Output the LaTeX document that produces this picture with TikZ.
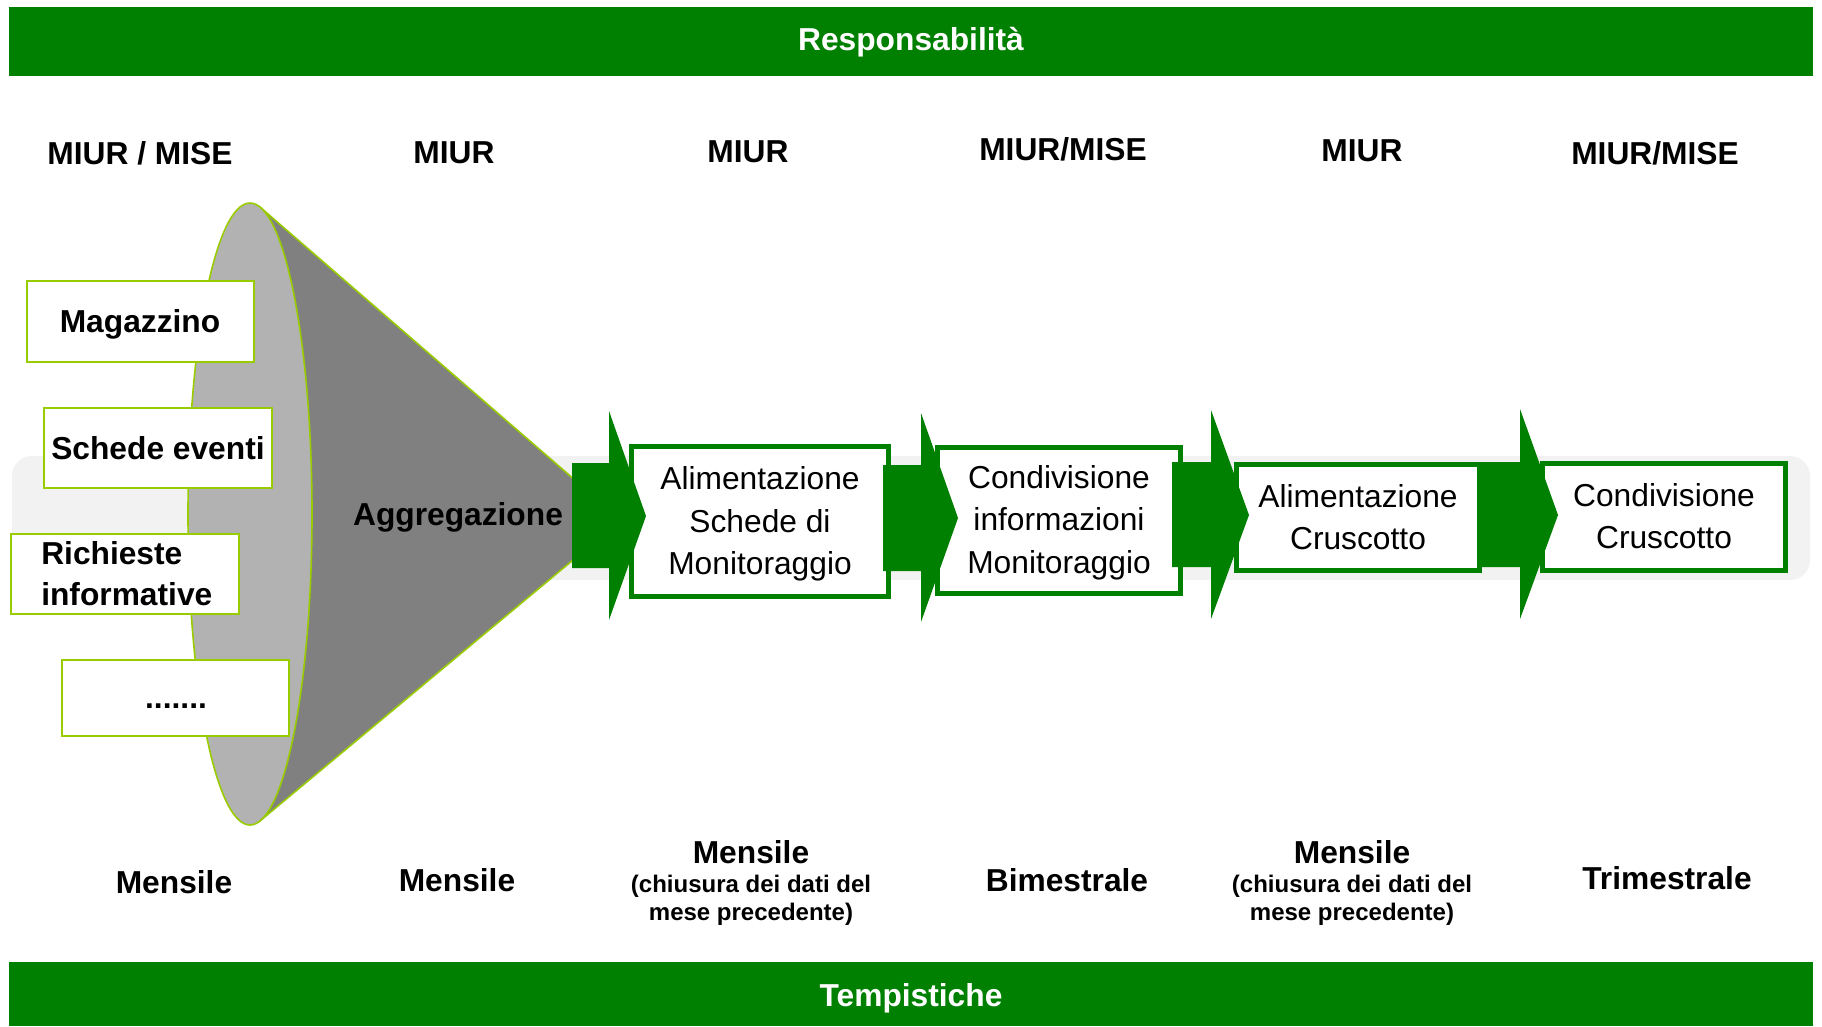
\documentclass[tikz,border=0pt]{standalone}
\usepackage{fontspec}
\setmainfont{Liberation Sans}
\definecolor{dgreen}{RGB}{0,128,0}
\definecolor{ygreen}{RGB}{153,204,0}
\definecolor{lgray}{RGB}{178,178,178}
\definecolor{mgray}{RGB}{128,128,128}
\definecolor{bgband}{RGB}{242,242,242}
\begin{document}
\begin{tikzpicture}[x=0.75pt,y=-0.75pt,
  big/.style={font=\fontsize{23.8}{28}\selectfont\bfseries, inner sep=0, anchor=base},
  small/.style={font=\fontsize{18}{22}\selectfont\bfseries, inner sep=0, anchor=base},
  reg/.style={font=\fontsize{23.8}{28}\selectfont, inner sep=0, anchor=base},
  hdr/.style={font=\fontsize{23.8}{28}\selectfont\bfseries, text=white, inner sep=0, anchor=base},
  band/.style={fill=dgreen},
  srcbox/.style={draw=ygreen, line width=1.5pt, fill=white, inner sep=0},
  stepbox/.style={draw=dgreen, line width=3.75pt, fill=white, inner sep=0},
  arrowshape/.style={fill=dgreen},
]
\useasboundingbox (0,0) rectangle (1822,1026);
% header / footer bands
\path[band] (9,7) rectangle (1813,76);
\path[band] (9,962) rectangle (1813,1026);
\node[hdr] (resp) at (911,50) {Responsabilità};
\node[hdr] (temp) at (911,1006) {Tempistiche};

% responsibilities
\node[big] (r1) at (140,164) {MIUR / MISE};
\node[big] (r2) at (454,163) {MIUR};
\node[big] (r3) at (748,162) {MIUR};
\node[big] (r4) at (1063,160) {MIUR/MISE};
\node[big] (r5) at (1362,161) {MIUR};
\node[big] (r6) at (1655,164) {MIUR/MISE};

% timings
\node[big] (t1) at (174,893) {Mensile};
\node[big] (t2) at (457,891) {Mensile};
\node[big] (t3) at (751,863) {Mensile};
\node[small] (t3a) at (751,892) {(chiusura dei dati del};
\node[small] (t3b) at (751,920) {mese precedente)};
\node[big] (t4) at (1067,891) {Bimestrale};
\node[big] (t5) at (1352,863) {Mensile};
\node[small] (t5a) at (1352,892) {(chiusura dei dati del};
\node[small] (t5b) at (1352,920) {mese precedente)};
\node[big] (t6) at (1667,889) {Trimestrale};

% light background band
\path[fill=bgband, rounded corners=15pt] (12,456) rectangle (1810,580);

% funnel
\path[fill=mgray, draw=ygreen, line width=1.2pt] (260.4,207.4) -- (621,520) -- (260.4,820.6) -- cycle;
\path[fill=lgray, draw=ygreen, line width=1.2pt] (250,514) ellipse [x radius=62, y radius=311];

% source boxes
\node[srcbox, minimum width=170.25pt, minimum height=60.75pt] (s1) at (140.5,321.5) {};
\node[srcbox, minimum width=171pt, minimum height=60pt] (s2) at (158,448) {};
\node[srcbox, minimum width=171pt, minimum height=60pt] (s3) at (125,574) {};
\node[srcbox, minimum width=170.25pt, minimum height=57pt] (s4) at (175.5,698) {};
\node[big] (s1t) at (140,332) {Magazzino};
\node[big] (s2t) at (158,459) {Schede eventi};
\node[big, anchor=base west] (s3t) at (41,564) {Richieste};
\node[big, anchor=base west] (s3u) at (41,605) {informative};
\node[big] (s4t) at (176,708) {.......};
\node[big] (agg) at (458,525) {Aggregazione};

% step boxes
\node[stepbox, minimum width=192.75pt, minimum height=112.5pt] (b1) at (760,521.5) {};
\node[stepbox, minimum width=182.25pt, minimum height=109.5pt] (b2) at (1059,520.5) {};
\node[stepbox, minimum width=182.25pt, minimum height=79.5pt] (b3) at (1358,517.5) {};
\node[stepbox, minimum width=182.25pt, minimum height=80.25pt] (b4) at (1664,517) {};

% arrows
\path[arrowshape] (572,463) -- (609,463) -- (609,411) -- (646,516) -- (609,620) -- (609,568) -- (572,568) -- cycle;
\path[arrowshape] (883,465) -- (921,465) -- (921,413) -- (958,518) -- (921,622) -- (921,571) -- (883,571) -- cycle;
\path[arrowshape] (1172,462) -- (1211,462) -- (1211,410) -- (1249,515) -- (1211,619) -- (1211,567) -- (1172,567) -- cycle;
\path[arrowshape] (1482,462) -- (1520,462) -- (1520,409) -- (1558,515) -- (1520,619) -- (1520,567) -- (1482,567) -- cycle;

% step texts
\node[reg] (b1a) at (760,489) {Alimentazione};
\node[reg] (b1b) at (760,532) {Schede di};
\node[reg] (b1c) at (760,574) {Monitoraggio};
\node[reg] (b2a) at (1059,488) {Condivisione};
\node[reg] (b2b) at (1059,530) {informazioni};
\node[reg] (b2c) at (1059,573) {Monitoraggio};
\node[reg] (b3a) at (1358,507) {Alimentazione};
\node[reg] (b3b) at (1358,549) {Cruscotto};
\node[reg] (b4a) at (1664,506) {Condivisione};
\node[reg] (b4b) at (1664,548) {Cruscotto};
\end{tikzpicture}
\end{document}
